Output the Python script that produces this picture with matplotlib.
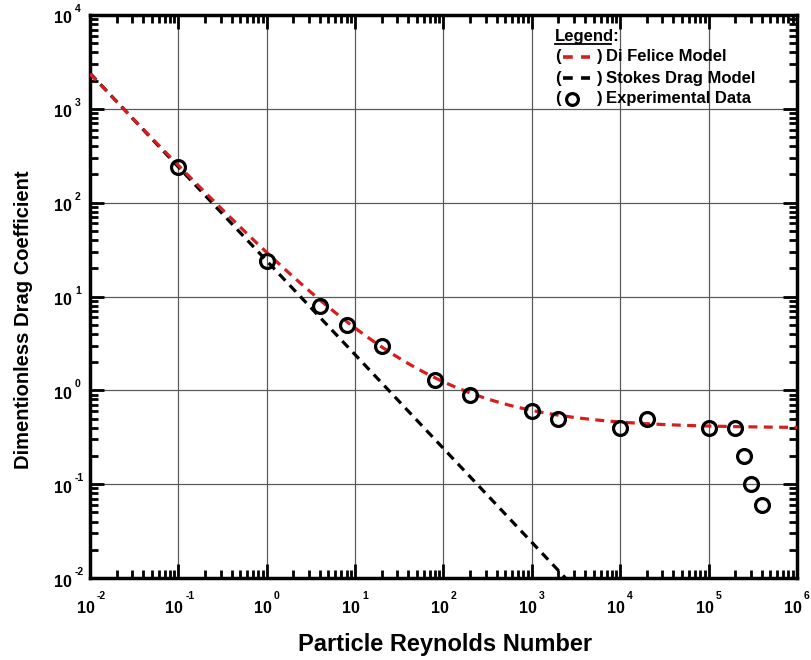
import numpy as np
import matplotlib
matplotlib.use("Agg")
import matplotlib.pyplot as plt
import matplotlib.transforms as mtransforms
from matplotlib.ticker import LogLocator, NullFormatter
from matplotlib.lines import Line2D

plt.rcParams['font.family'] = ['Liberation Sans', 'DejaVu Sans']
plt.rcParams['font.weight'] = 'bold'

# Experimental drag data (particle Reynolds number, drag coefficient)
re_exp = [0.1, 1, 4, 8, 20, 80, 200, 1000, 2000, 1e4, 2e4, 1e5, 2e5, 2.5e5, 3e5, 4e5]
cd_exp = [240, 24, 8, 5, 3, 1.3, 0.9, 0.6, 0.5, 0.4, 0.5, 0.4, 0.4, 0.2, 0.1, 0.06]

# Model curves
re_model = np.logspace(-2, 6, 400)
cd_difelice = (0.63 + 4.8 / np.sqrt(re_model)) ** 2
cd_stokes = 24.0 / re_model

x_decades = list(range(-2, 7))
y_decades = list(range(-2, 5))

x_label = "Particle Reynolds Number"
y_label = "Dimentionless Drag Coefficient"
legend_title = "Legend:"
legend_labels = ["Di Felice Model", "Stokes Drag Model", "Experimental Data"]

RED = '#d71d1d'
DASH = (0, (2.8, 2.0))

fig = plt.figure(figsize=(8.12, 6.60), dpi=100)
ax = fig.add_axes([0.1108, 0.1242, 0.8707, 0.8531])

ax.plot(re_model, cd_stokes, color='black', lw=2.3, linestyle=DASH, zorder=3)
ax.plot(re_model, cd_difelice, color=RED, lw=2.3, linestyle=DASH, zorder=4)
ax.plot(re_exp, cd_exp, linestyle='none', marker='o', markersize=10,
        markerfacecolor='none', markeredgecolor='black', markeredgewidth=2.3, zorder=5)

ax.set_xscale('log')
ax.set_yscale('log')
ax.set_xlim(10.0 ** x_decades[0], 10.0 ** x_decades[-1])
ax.set_ylim(10.0 ** y_decades[0], 10.0 ** y_decades[-1])

ax.xaxis.set_major_locator(LogLocator(base=10, numticks=20))
ax.yaxis.set_major_locator(LogLocator(base=10, numticks=20))
ax.xaxis.set_minor_locator(LogLocator(base=10, subs=np.arange(2, 10), numticks=20))
ax.yaxis.set_minor_locator(LogLocator(base=10, subs=np.arange(2, 10), numticks=20))
for axis in (ax.xaxis, ax.yaxis):
    axis.set_major_formatter(NullFormatter())
    axis.set_minor_formatter(NullFormatter())

ax.grid(True, which='major', color='#5a5a5a', lw=0.9, zorder=1)
ax.tick_params(which='both', direction='in', top=True, right=True, width=2.0)
ax.tick_params(which='major', length=10)
ax.tick_params(which='minor', length=6)
for s in ax.spines.values():
    s.set_linewidth(2.5)

# Power-of-ten tick labels with a raised exponent
base_fs, exp_fs = 11.5, 7.5
xt = ax.get_xaxis_transform()
yt = ax.get_yaxis_transform()
for d in x_decades:
    tb = mtransforms.offset_copy(xt, fig=fig, x=-4, y=-30, units='dots')
    te = mtransforms.offset_copy(xt, fig=fig, x=7, y=-18, units='dots')
    ax.text(10.0 ** d, 0, "10", transform=tb, ha='center', va='center',
            fontsize=base_fs, fontweight='bold', clip_on=False)
    ax.text(10.0 ** d, 0, str(d), transform=te, ha='left', va='center',
            fontsize=exp_fs, fontweight='bold', clip_on=False)
for d in y_decades:
    tb = mtransforms.offset_copy(yt, fig=fig, x=-18, y=-4, units='dots')
    te = mtransforms.offset_copy(yt, fig=fig, x=-15, y=6, units='dots')
    ax.text(0, 10.0 ** d, "10", transform=tb, ha='right', va='center',
            fontsize=base_fs, fontweight='bold', clip_on=False)
    ax.text(0, 10.0 ** d, str(d), transform=te, ha='left', va='center',
            fontsize=exp_fs, fontweight='bold', clip_on=False)

fig.text(445 / 812, 1 - 644 / 660, x_label, fontsize=17, fontweight='bold',
         ha='center', va='center')
fig.text(24 / 812, 1 - 320 / 660, y_label, fontsize=14.5, fontweight='bold',
         ha='center', va='center', rotation=90)

# Hand-built legend in the upper right corner
tr = ax.transAxes
fs = 12
lx = 0.658
ax.text(lx, 0.9625, legend_title, transform=tr, fontsize=fs, fontweight='bold',
        va='center', ha='left', zorder=6)
# underline under the word only, not the colon
ax.add_line(Line2D([lx, lx + 0.0785], [0.949, 0.949], transform=tr,
                   color='black', lw=1.3, zorder=6))
rows_y = [0.926, 0.888, 0.851]
styles = [dict(color=RED, kind='dash'), dict(color='black', kind='dash'),
          dict(color='black', kind='circle')]
for y, lab, st in zip(rows_y, legend_labels, styles):
    ax.text(lx, y, "(", transform=tr, fontsize=fs, fontweight='bold', va='center', ha='left', zorder=6)
    ax.text(lx + 0.059, y, ")", transform=tr, fontsize=fs, fontweight='bold', va='center', ha='left', zorder=6)
    ax.text(lx + 0.072, y, lab, transform=tr, fontsize=fs, fontweight='bold', va='center', ha='left', zorder=6)
    if st['kind'] == 'dash':
        ax.add_line(Line2D([lx + 0.011, lx + 0.049], [y, y], transform=tr, color=st['color'],
                           lw=2.6, linestyle=(0, (2.7, 2.3)), zorder=6))
    else:
        ax.add_line(Line2D([lx + 0.024], [y], transform=tr, marker='o', markersize=8.5,
                           markerfacecolor='none', markeredgecolor='black',
                           markeredgewidth=2.3, linestyle='none', zorder=6))

fig.savefig("out.png", dpi=100)
